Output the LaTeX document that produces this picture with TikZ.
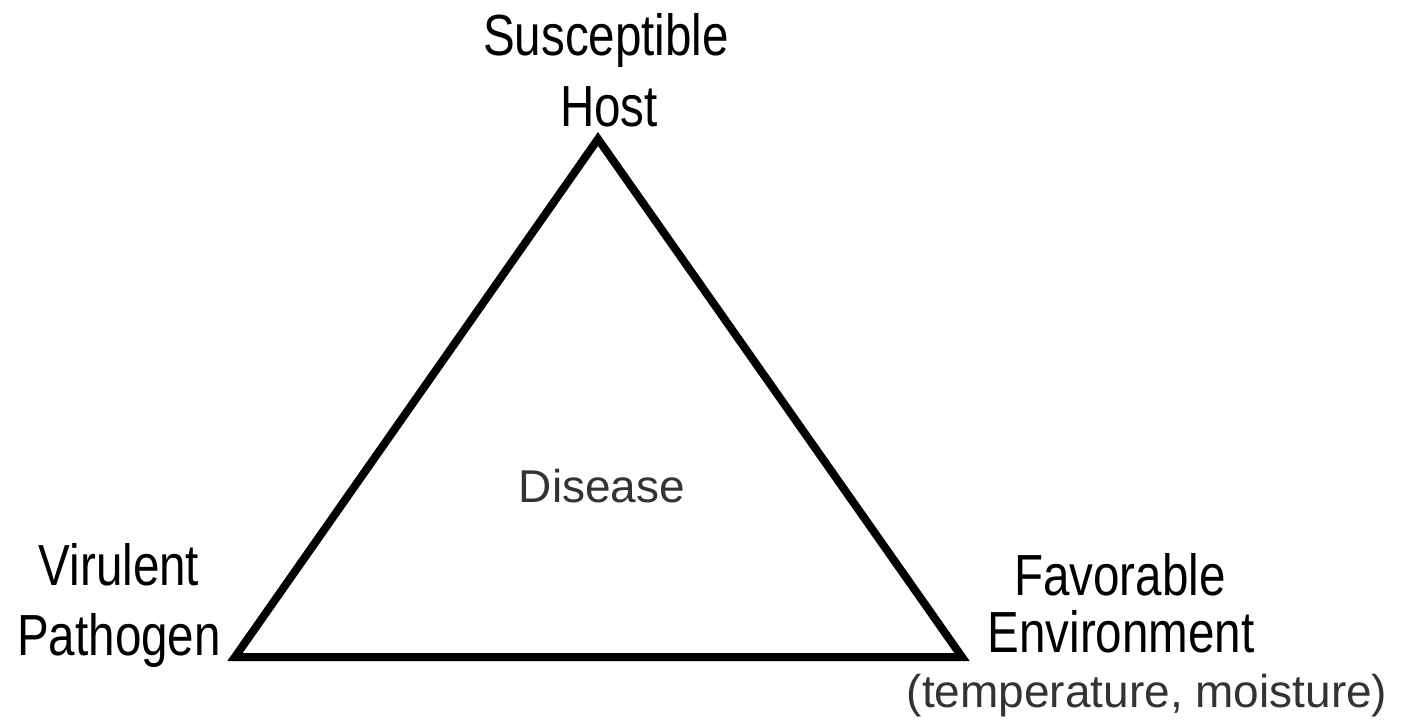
\documentclass[tikz,border=0pt]{standalone}
\usepackage{fontspec}
\setmainfont{Liberation Sans}
\newfontfamily\narrowfont[FakeStretch=0.82]{Liberation Sans}
\definecolor{greytext}{HTML}{333333}
\begin{document}
\begin{tikzpicture}[x=0.75pt,y=-0.75pt,
  vlabel/.style={anchor=base,inner sep=0pt,font=\narrowfont\fontsize{43.5}{52}\selectfont,text=black},
  glabel/.style={anchor=base,inner sep=0pt,font=\fontsize{34.5}{41}\selectfont,text=greytext},
  edge/.style={line width=6pt,line join=miter,black}]
\useasboundingbox (0,0) rectangle (1410,721);
\fill[white] (0,0) rectangle (1410,721);
% vertices
\coordinate (host) at (598,139);
\coordinate (path) at (235,657);
\coordinate (env) at (962,657);
\draw[edge] (host) -- (path) -- (env) -- cycle;
% labels
\node[vlabel] (s1) at (606,55) {Susceptible};
\node[vlabel] (s2) at (609,126) {Host};
\node[vlabel] (v1) at (119,585) {Virulent};
\node[vlabel] (v2) at (119,655) {Pathogen};
\node[vlabel] (f1) at (1120,595) {Favorable};
\node[vlabel] (f2) at (1121,652) {Environment};
\node[glabel] (dis) at (602,502) {Disease};
\node[glabel] (tm) at (1147,707) {(temperature, moisture)};
\end{tikzpicture}
\end{document}
